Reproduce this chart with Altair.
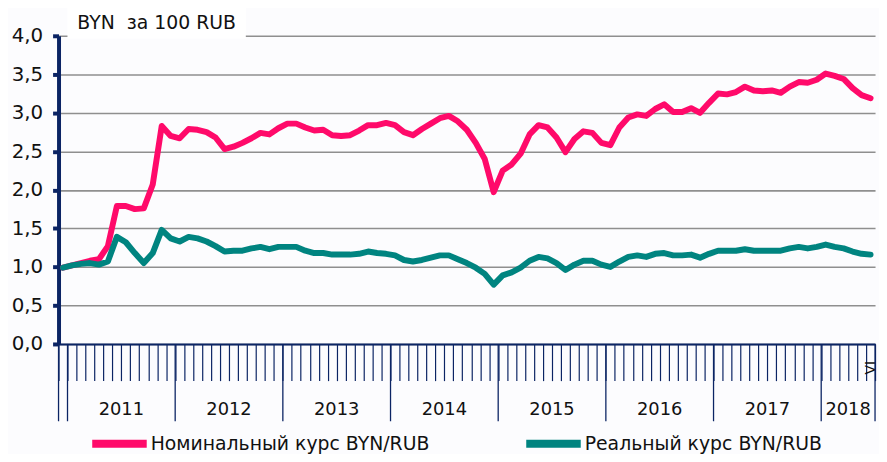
import altair as alt
import pandas as pd

# ---------------- data ----------------
months = [str(p) for p in pd.period_range("2010-12", "2018-06", freq="M")]

nominal = [
    0.99, 1.02, 1.05, 1.08, 1.10, 1.27, 1.79, 1.79, 1.75, 1.76, 2.07, 2.83, 2.70,
    2.67, 2.79, 2.78, 2.75, 2.68, 2.53, 2.56, 2.61, 2.67, 2.74, 2.72, 2.80,
    2.86, 2.86, 2.81, 2.77, 2.78, 2.71, 2.70, 2.71, 2.77, 2.84, 2.84, 2.87,
    2.84, 2.75, 2.71, 2.79, 2.86, 2.93, 2.96, 2.89, 2.78, 2.61, 2.40, 1.97,
    2.25, 2.33, 2.47, 2.72, 2.84, 2.81, 2.68, 2.49, 2.66, 2.76, 2.74, 2.61,
    2.58, 2.81, 2.94, 2.98, 2.96, 3.05, 3.11, 3.01, 3.01, 3.06, 3.00, 3.13,
    3.25, 3.24, 3.27, 3.34, 3.29, 3.28, 3.29, 3.26, 3.34, 3.40, 3.39, 3.43,
    3.51, 3.48, 3.44, 3.32, 3.23, 3.19,
]
real = [
    0.99, 1.02, 1.04, 1.05, 1.03, 1.07, 1.39, 1.32, 1.18, 1.05, 1.18, 1.48, 1.37,
    1.33, 1.39, 1.37, 1.33, 1.27, 1.20, 1.21, 1.21, 1.24, 1.26, 1.23, 1.26,
    1.26, 1.26, 1.21, 1.18, 1.18, 1.16, 1.16, 1.16, 1.17, 1.20, 1.18, 1.17,
    1.15, 1.09, 1.07, 1.09, 1.12, 1.15, 1.15, 1.10, 1.05, 0.99, 0.91, 0.77,
    0.89, 0.93, 0.99, 1.08, 1.13, 1.11, 1.05, 0.96, 1.03, 1.08, 1.08, 1.03,
    1.00, 1.07, 1.13, 1.15, 1.13, 1.17, 1.18, 1.15, 1.15, 1.16, 1.12, 1.17,
    1.21, 1.21, 1.21, 1.23, 1.21, 1.21, 1.21, 1.21, 1.24, 1.26, 1.24, 1.26,
    1.29, 1.26, 1.24, 1.20, 1.17, 1.16,
]

series_names = ["Номинальный курс BYN/RUB", "Реальный курс BYN/RUB"]
series_colors = ["#FF0A6A", "#008480"]

years = ["2011", "2012", "2013", "2014", "2015", "2016", "2017", "2018"]
year_start = [0.5, 12.5, 24.5, 36.5, 48.5, 60.5, 72.5, 84.5]
year_end = [12.5, 24.5, 36.5, 48.5, 60.5, 72.5, 84.5, 90.5]
long_ticks = [-0.5] + year_start + [90.5]

unit_label = "BYN\u00a0\u00a0за 100 RUB"
last_month_label = "VI"
y_ticks = [0.0, 0.5, 1.0, 1.5, 2.0, 2.5, 3.0, 3.5, 4.0]

# ---------------- tables ----------------
rows = []
for i, m in enumerate(months):
    rows.append({"idx": i, "month": m, "series": series_names[0], "value": nominal[i]})
for i, m in enumerate(months):
    rows.append({"idx": i, "month": m, "series": series_names[1], "value": real[i]})
df = pd.DataFrame(rows)

years_df = pd.DataFrame({
    "year": years,
    "center": [(a + b) / 2 for a, b in zip(year_start, year_end)],
})
ticks_df = pd.DataFrame({"pos": long_ticks})
vi_df = pd.DataFrame({"idx": [len(months) - 1], "label": [last_month_label]})
title_df = pd.DataFrame({"label": [unit_label]})

NAVY = "#0B2464"
FONT = "DejaVu Sans"
W, H = 824, 311

x_scale = alt.Scale(domain=[-0.5, len(months) - 0.5], nice=False, zero=False)
x_axis = alt.Axis(
    values=[k - 0.5 for k in range(len(months) + 1)],
    labels=False, ticks=True, tickSize=37, tickColor=NAVY, tickWidth=1.2,
    domainColor=NAVY, domainWidth=2, grid=False, title=None,
)
y_scale = alt.Scale(domain=[0, 4], nice=False, zero=True)
y_axis = alt.Axis(
    values=y_ticks, labelExpr="replace(format(datum.value, '.1f'), '.', ',')",
    labelFont=FONT, labelFontSize=20, labelColor="#111111", labelPadding=10,
    tickSize=6, tickWidth=4, tickColor=NAVY, domainColor=NAVY, domainWidth=4,
    grid=True, gridColor="#8f8f8f", gridWidth=1.6, title=None,
)

lines = alt.Chart(df).mark_line(
    strokeWidth=6, strokeCap="round", strokeJoin="round"
).encode(
    x=alt.X("idx:Q", scale=x_scale, axis=x_axis),
    y=alt.Y("value:Q", scale=y_scale, axis=y_axis),
    color=alt.Color(
        "series:N",
        scale=alt.Scale(domain=series_names, range=series_colors),
        legend=alt.Legend(
            title=None, orient="none", legendX=30, legendY=380,
            direction="horizontal", symbolType="stroke", symbolSize=3025,
            symbolStrokeWidth=8, labelFont=FONT, labelFontSize=19,
            labelColor="#111111", labelOffset=0, labelLimit=600,
            columnPadding=81,
        ),
    ),
    detail="series:N",
)

year_rules = alt.Chart(ticks_df).mark_rule(color=NAVY, strokeWidth=1.3).encode(
    x=alt.X("pos:Q", scale=x_scale, axis=x_axis),
    y=alt.value(H),
    y2=alt.value(H + 78),
)

year_text = alt.Chart(years_df).mark_text(
    font=FONT, fontSize=18, color="#111111", baseline="middle", align="center"
).encode(
    x=alt.X("center:Q", scale=x_scale, axis=x_axis),
    y=alt.value(H + 67),
    text="year:N",
)

vi_text = alt.Chart(vi_df).mark_text(
    font=FONT, fontSize=14, color="#111111", baseline="middle", align="center",
    angle=270,
).encode(
    x=alt.X("idx:Q", scale=x_scale, axis=x_axis),
    y=alt.value(H + 24),
    text="label:N",
)

title_box = alt.Chart(title_df).mark_rect(color="white").encode(
    x=alt.value(9), x2=alt.value(189), y=alt.value(-28), y2=alt.value(3)
)
title_text = alt.Chart(title_df).mark_text(
    font=FONT, fontSize=19, color="#111111", align="left", baseline="middle"
).encode(
    x=alt.value(19), y=alt.value(-13), text="label:N"
)

chart = alt.layer(
    title_box, title_text, year_rules, lines, year_text, vi_text
).properties(
    width=W, height=H,
    autosize=alt.AutoSizeParams(type="none"),
    padding={"left": 51, "top": 26, "right": 4, "bottom": 109},
    background="#FCFCFE",
).configure_view(stroke=None)

chart.save("out.html", embed_options={"renderer": "svg", "actions": False})
